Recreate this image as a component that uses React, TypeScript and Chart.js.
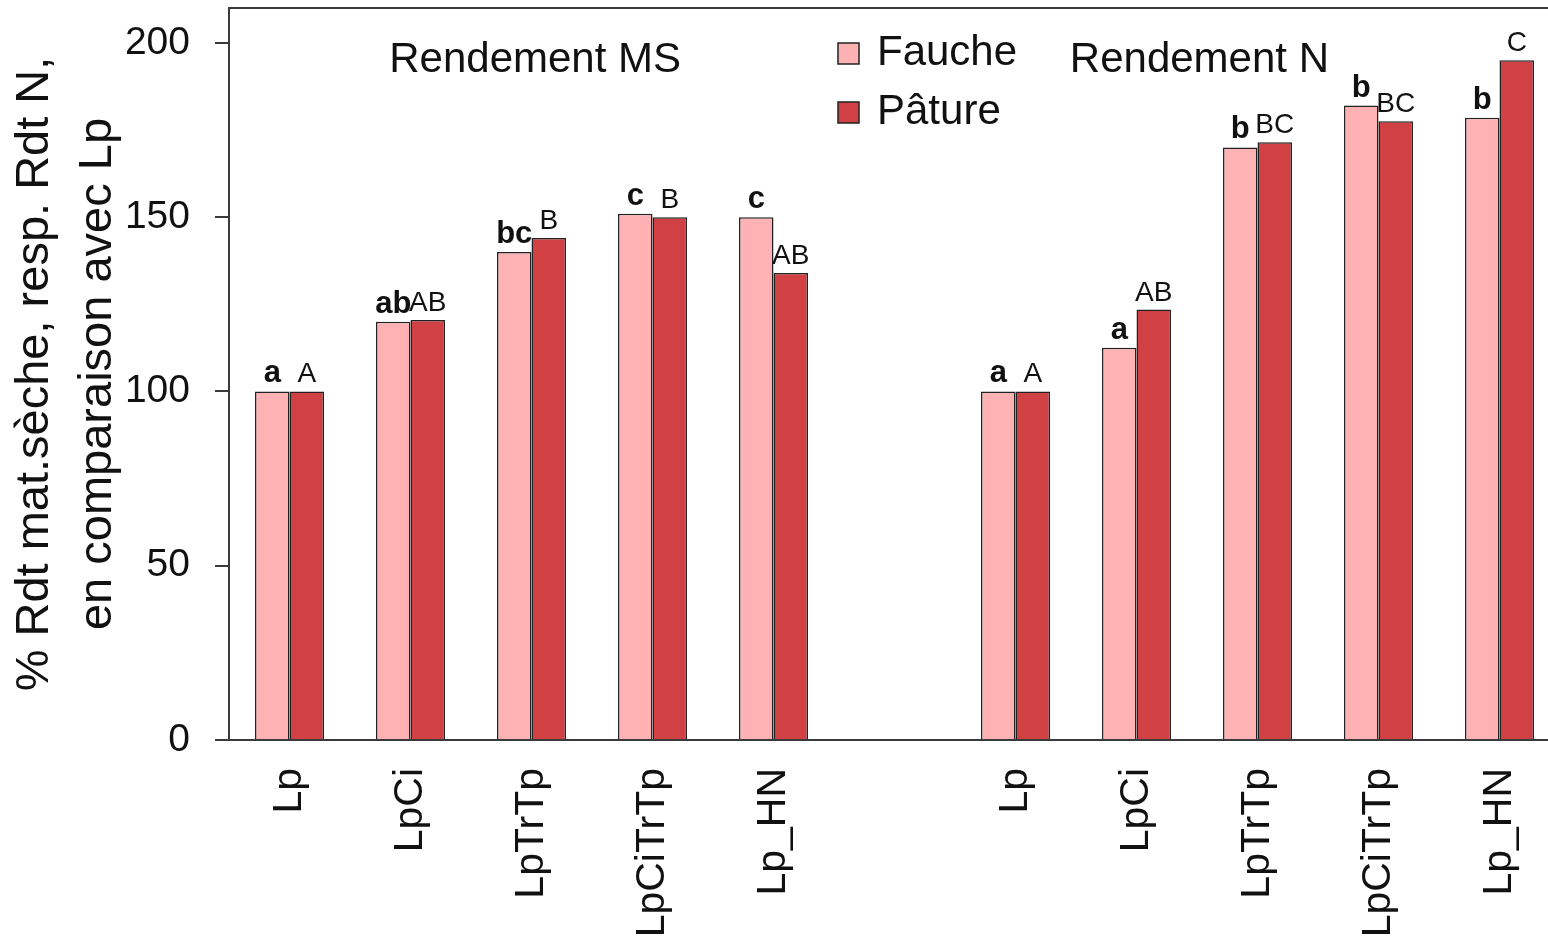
import React, { useEffect, useRef } from "react";
import { Chart, registerables } from "chart.js";

Chart.register(...registerables);

const categories = ["Lp", "LpCi", "LpTrTp", "LpCiTrTp", "Lp_HN", "", "Lp", "LpCi", "LpTrTp", "LpCiTrTp", "Lp_HN"];
const faucheValues = [100, 120, 140, 151, 150, null, 100, 112.5, 170, 182, 178.5];
const patureValues = [100, 120.5, 144, 150, 134, null, 100, 123.5, 171.5, 177.5, 195];
const faucheLetters = ["a", "ab", "bc", "c", "c", "", "a", "a", "b", "b", "b"];
const patureLetters = ["A", "AB", "B", "B", "AB", "", "A", "AB", "BC", "BC", "C"];
const seriesNames = ["Fauche", "Pâture"];
const panelTitles = ["Rendement MS", "Rendement N"];
const panelTitleAt = [2.03, 7.52];
const yTitle = ["% Rdt mat.sèche, resp. Rdt N,", "en comparaison avec Lp"];

const FONT = "'Liberation Sans', Arial, Helvetica, sans-serif";
const FAUCHE_COLOR = "#FFB2B3";
const PATURE_COLOR = "#D14043";
const LINE = "#3a3a3a";

const CANVAS_W = 1560;
const CANVAS_H = 947;

const overlayPlugin = {
  id: "overlay",
  afterDraw(chart: any) {
    const ctx = chart.ctx;
    const area = chart.chartArea;
    const x = chart.scales.x;
    const y = chart.scales.y;
    ctx.save();
    // top frame line
    ctx.strokeStyle = LINE;
    ctx.lineWidth = 2;
    ctx.beginPath();
    ctx.moveTo(area.left - 1, area.top);
    ctx.lineTo(area.right, area.top);
    ctx.stroke();

    // letters above bars
    const letters = [faucheLetters, patureLetters];
    [0, 1].forEach((di) => {
      const meta = chart.getDatasetMeta(di);
      meta.data.forEach((el: any, i: number) => {
        const t = letters[di][i];
        if (!t) return;
        const lower = t === t.toLowerCase();
        ctx.font = lower ? `bold 31px ${FONT}` : `28px ${FONT}`;
        ctx.fillStyle = "#111";
        ctx.textAlign = "center";
        ctx.textBaseline = "alphabetic";
        ctx.fillText(t, el.x, el.y - 9);
      });
    });

    // panel titles
    ctx.font = `42px ${FONT}`;
    ctx.fillStyle = "#111";
    ctx.textAlign = "center";
    ctx.textBaseline = "middle";
    panelTitles.forEach((t, i) => {
      ctx.fillText(t, x.getPixelForValue(panelTitleAt[i]), y.getPixelForValue(195));
    });

    // legend
    const colors = [FAUCHE_COLOR, PATURE_COLOR];
    const lx = 838;
    const ly = [53, 112];
    seriesNames.forEach((name, i) => {
      ctx.fillStyle = colors[i];
      ctx.fillRect(lx, ly[i] - 10, 21, 21);
      ctx.strokeStyle = "#222";
      ctx.lineWidth = 1.5;
      ctx.strokeRect(lx, ly[i] - 10, 21, 21);
      ctx.fillStyle = "#111";
      ctx.font = `42px ${FONT}`;
      ctx.textAlign = "left";
      ctx.textBaseline = "middle";
      ctx.fillText(name, 877, ly[i]);
    });
    ctx.restore();
  },
};

export default function App() {
  const ref = useRef<HTMLCanvasElement>(null);
  useEffect(() => {
    if (!ref.current) return;
    const chart = new Chart(ref.current, {
      type: "bar",
      data: {
        labels: categories,
        datasets: [
          {
            label: seriesNames[0],
            data: faucheValues,
            backgroundColor: FAUCHE_COLOR,
            borderColor: "#222",
            borderWidth: 1.5,
          },
          {
            label: seriesNames[1],
            data: patureValues,
            backgroundColor: PATURE_COLOR,
            borderColor: "#222",
            borderWidth: 1.5,
          },
        ],
      },
      options: {
        responsive: false,
        animation: false,
        devicePixelRatio: 1,
        layout: { padding: { top: 8, left: 0, right: 0, bottom: 0 } },
        datasets: { bar: { categoryPercentage: 0.57, barPercentage: 1.0 } },
        plugins: { legend: { display: false }, tooltip: { enabled: false } },
        scales: {
          x: {
            offset: true,
            grid: { display: false, drawTicks: false },
            border: { display: true, color: LINE, width: 2 },
            ticks: {
              autoSkip: false,
              minRotation: 90,
              maxRotation: 90,
              padding: 28,
              color: "#111",
              font: { family: FONT, size: 41 },
            },
            afterFit: (s: any) => {
              s.height = CANVAS_H - 740;
              s.paddingLeft = 0;
              s.paddingRight = 0;
            },
          },
          y: {
            min: 0,
            max: 210,
            grid: {
              drawOnChartArea: false,
              drawTicks: true,
              tickLength: 14,
              color: LINE,
              lineWidth: 2,
            },
            border: { display: true, color: LINE, width: 2 },
            ticks: {
              stepSize: 50,
              includeBounds: false,
              autoSkip: false,
              padding: 25,
              color: "#111",
              font: { family: FONT, size: 39 },
            },
            afterBuildTicks: (s: any) => {
              s.ticks = s.ticks.filter((t: any) => t.value % 50 === 0);
            },
            title: {
              display: true,
              text: yTitle,
              color: "#111",
              padding: { top: 4, bottom: 0 },
              font: { family: FONT, size: 47, lineHeight: 1.34 },
            },
            afterFit: (s: any) => {
              s.width = 229;
              s.paddingTop = 0;
              s.paddingBottom = 0;
            },
          },
        },
      },
      plugins: [overlayPlugin],
    });
    return () => chart.destroy();
  }, []);
  return (
    <div
      style={{
        position: "fixed",
        left: 0,
        top: 0,
        width: 1548,
        height: 947,
        overflow: "hidden",
        background: "#fff",
      }}
    >
      <canvas ref={ref} width={CANVAS_W} height={CANVAS_H} style={{ width: CANVAS_W, height: CANVAS_H, display: "block" }} />
    </div>
  );
}
